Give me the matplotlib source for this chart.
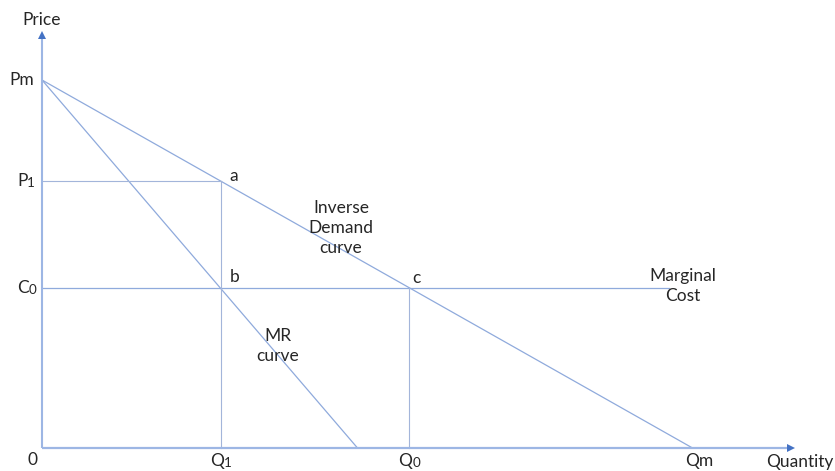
import matplotlib
matplotlib.use("Agg")
import matplotlib.pyplot as plt

# ---- data (economic units) ----
Pm = 10.0          # price intercept of inverse demand
Qm = 10.0          # quantity intercept of inverse demand
MR_int = 4.85      # quantity intercept of MR curve
Q1 = 2.75          # monopoly quantity
P1 = 7.25          # monopoly price
C0 = 4.34          # marginal cost
Q0 = 5.65          # competitive quantity
MC_end = 9.65      # where the MC line is drawn to

demand_q = [0.0, Qm]
demand_p = [Pm, 0.0]
mr_q = [0.0, MR_int]
mr_p = [Pm, 0.0]

plt.rcParams['font.family'] = ['Lato', 'DejaVu Sans']

W, H = 835, 471
fig = plt.figure(figsize=(W / 100, H / 100), dpi=100)
ax = fig.add_axes([0, 0, 1, 1])
ax.set_axis_off()

ox, oy = 42.0, 447.7     # pixel position of origin
sx, sy = 65.0, 36.77     # pixels per unit
ax.set_xlim(-ox / sx, (W - ox) / sx)
ax.set_ylim(-(H - oy) / sy, oy / sy)

def px(x, y):
    return ((x - ox) / sx, (oy - y) / sy)

curve_c = '#8FAADC'
guide_c = '#A3B5DA'
axis_c = '#9DB6E4'
arrow_c = '#4472C4'
text_c = '#262626'

# axes with small arrow heads
ytop = px(0, 35)[1]
xright = px(791, 0)[0]
ax.plot([0, 0], [0, ytop], color=axis_c, lw=1.5, zorder=3, solid_capstyle='butt')
ax.plot([0, xright], [0, 0], color=axis_c, lw=1.6, zorder=3, solid_capstyle='butt')
ax.plot([0], [ytop], marker='^', ms=6, color=arrow_c, mew=0, zorder=4)
ax.plot([xright], [0], marker='>', ms=6, color=arrow_c, mew=0, zorder=4)

# curves
ax.plot(demand_q, demand_p, color=curve_c, lw=0.9)
ax.plot(mr_q, mr_p, color=curve_c, lw=0.9)
ax.plot([0, MC_end], [C0, C0], color=curve_c, lw=0.9)
# guides
ax.plot([0, Q1], [P1, P1], color=guide_c, lw=0.8)
ax.plot([Q1, Q1], [0, P1], color=guide_c, lw=0.8)
ax.plot([Q0, Q0], [0, C0], color=guide_c, lw=0.8)

fs = 12.5

def sub_label(x, y, main, sub, ha='center'):
    t = ax.text(x, y, main, fontsize=fs, color=text_c, ha=ha, va='center')
    ax.annotate(sub, xy=(1, 0), xycoords=t, fontsize=fs * 0.78,
                color=text_c, ha='left', va='bottom')
    return t

# axis labels
ax.text(*px(42, 20), 'Price', fontsize=fs, color=text_c, ha='center', va='center')
ax.text(*px(800, 462), 'Quantity', fontsize=fs, color=text_c, ha='center', va='center')
ax.text(*px(33, 460), '0', fontsize=fs, color=text_c, ha='center', va='center')

# price labels
ax.text(px(34, 0)[0], Pm, 'Pm', fontsize=fs, color=text_c, ha='right', va='center')
sub_label(px(17, 0)[0], P1, 'P', '1', ha='left')
sub_label(px(17, 0)[0], C0, 'C', '0', ha='left')

# quantity labels
ylab = px(0, 461)[1]
sub_label(Q1 - 4 / sx, ylab, 'Q', '1')
sub_label(Q0 - 4 / sx, ylab, 'Q', '0')
ax.text(px(699, 0)[0], ylab, 'Qm', fontsize=fs, color=text_c, ha='center', va='center')

# point labels
ax.text(Q1 + 9 / sx, P1 + 5 / sy, 'a', fontsize=fs, color=text_c, ha='left', va='center')
ax.text(Q1 + 9 / sx, C0 + 11 / sy, 'b', fontsize=fs, color=text_c, ha='left', va='center')
ax.text(Q0 + 3 / sx, C0 + 10 / sy, 'c', fontsize=fs, color=text_c, ha='left', va='center')

# curve labels
ax.text(*px(341, 228), 'Inverse\nDemand\ncurve', fontsize=fs, color=text_c,
        ha='center', va='center', linespacing=1.3)
ax.text(*px(683, 286), 'Marginal\nCost', fontsize=fs, color=text_c,
        ha='center', va='center', linespacing=1.3)
ax.text(*px(278, 346), 'MR\ncurve', fontsize=fs, color=text_c,
        ha='center', va='center', linespacing=1.3)

fig.savefig('out.png', dpi=100)
